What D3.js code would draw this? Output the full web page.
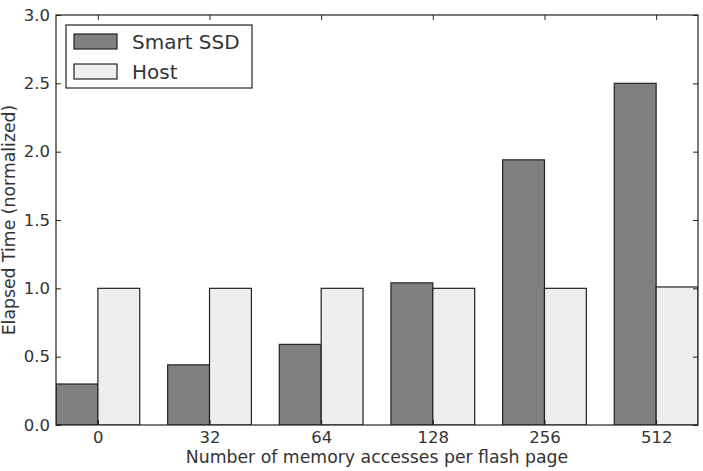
<!DOCTYPE html>
<html>
<head>
<meta charset="utf-8">
<script src="https://cdn.jsdelivr.net/npm/d3@7"></script>
<style>
  body { margin: 0; background: #fff; }
  text { font-family: "DejaVu Sans", sans-serif; fill: #333; }
</style>
</head>
<body>
<div id="chart"></div>
<script>
var categories = ["0", "32", "64", "128", "256", "512"];
var smartSSD = [0.30, 0.44, 0.59, 1.04, 1.94, 2.50];
var host = [1.00, 1.00, 1.00, 1.00, 1.00, 1.01];
var yTicks = [0.0, 0.5, 1.0, 1.5, 2.0, 2.5, 3.0];
var seriesNames = ["Smart SSD", "Host"];
var seriesColors = ["#808080", "#eeeeee"];

var svgWidth = 703;
var svgHeight = 471;
var margin = { top: 15, right: 5, bottom: 46, left: 56 };
var width = svgWidth - margin.left - margin.right;
var height = svgHeight - margin.top - margin.bottom;

var barW = 0.375;

var svg = d3.select("#chart")
  .append("svg")
  .attr("width", svgWidth)
  .attr("height", svgHeight);

var chartGroup = svg.append("g")
  .attr("transform", `translate(${margin.left}, ${margin.top})`);

// x in "index" units like matplotlib: bars at i and i+w, limits 0..5+2w
var x = d3.scaleLinear()
  .domain([0, categories.length - 1 + 2 * barW])
  .range([0, width]);

var y = d3.scaleLinear()
  .domain([0, 3])
  .range([height, 0]);

chartGroup.append("clipPath").attr("id", "plotclip")
  .append("rect").attr("width", width).attr("height", height);

var bars = chartGroup.append("g").attr("clip-path", "url(#plotclip)");

[smartSSD, host].forEach(function(series, s) {
  bars.selectAll(".bar" + s)
    .data(series)
    .enter()
    .append("rect")
    .attr("x", (d, i) => x(i + s * barW))
    .attr("width", x(barW) - x(0))
    .attr("y", d => y(d))
    .attr("height", d => height - y(d))
    .attr("fill", seriesColors[s])
    .attr("stroke", "#222")
    .attr("stroke-width", 1.2);
});

// frame
chartGroup.append("rect")
  .attr("width", width)
  .attr("height", height)
  .attr("fill", "none")
  .attr("stroke", "#222")
  .attr("stroke-width", 1.2);

var tickPos = categories.map((c, i) => i + barW);

// bottom axis: ticks inward
var bottomAxis = d3.axisBottom(x)
  .tickValues(tickPos)
  .tickFormat((d, i) => categories[i])
  .tickSizeInner(-5)
  .tickSizeOuter(0)
  .tickPadding(6);

var gx = chartGroup.append("g")
  .attr("transform", `translate(0, ${height})`)
  .call(bottomAxis);
gx.select(".domain").remove();
gx.selectAll("text").style("font-size", "16.5px").attr("fill", "#333");

var topAxis = d3.axisTop(x).tickValues(tickPos).tickFormat("").tickSizeInner(-5).tickSizeOuter(0);
var gxt = chartGroup.append("g").call(topAxis);
gxt.select(".domain").remove();

var leftAxis = d3.axisLeft(y)
  .tickValues(yTicks)
  .tickFormat(d3.format(".1f"))
  .tickSizeInner(-5)
  .tickSizeOuter(0)
  .tickPadding(6);
var gy = chartGroup.append("g").call(leftAxis);
gy.select(".domain").remove();
gy.selectAll("text").style("font-size", "16.5px").attr("fill", "#333");

var rightAxis = d3.axisRight(y).tickValues(yTicks).tickFormat("").tickSizeInner(-5).tickSizeOuter(0);
var gyr = chartGroup.append("g").attr("transform", `translate(${width}, 0)`).call(rightAxis);
gyr.select(".domain").remove();

chartGroup.selectAll(".tick line").attr("stroke", "#222");

// axis labels
chartGroup.append("text")
  .attr("transform", `translate(${width / 2}, ${height + 38})`)
  .attr("text-anchor", "middle")
  .style("font-size", "17.3px")
  .text("Number of memory accesses per flash page");

chartGroup.append("text")
  .attr("transform", "rotate(-90)")
  .attr("x", -height / 2)
  .attr("y", -margin.left + 15)
  .attr("text-anchor", "middle")
  .style("font-size", "17.3px")
  .text("Elapsed Time (normalized)");

// legend
var legend = chartGroup.append("g").attr("transform", "translate(10, 10)");
legend.append("rect")
  .attr("width", 186)
  .attr("height", 63)
  .attr("fill", "#fff")
  .attr("stroke", "#222")
  .attr("stroke-width", 1.2);

seriesNames.forEach(function(name, i) {
  legend.append("rect")
    .attr("x", 8)
    .attr("y", 9 + i * 30)
    .attr("width", 43)
    .attr("height", 15)
    .attr("fill", seriesColors[i])
    .attr("stroke", "#222")
    .attr("stroke-width", 1.2);
  legend.append("text")
    .attr("x", 66)
    .attr("y", 17 + i * 30)
    .attr("dy", "0.35em")
    .style("font-size", "20px")
    .text(name);
});
</script>
</body>
</html>
